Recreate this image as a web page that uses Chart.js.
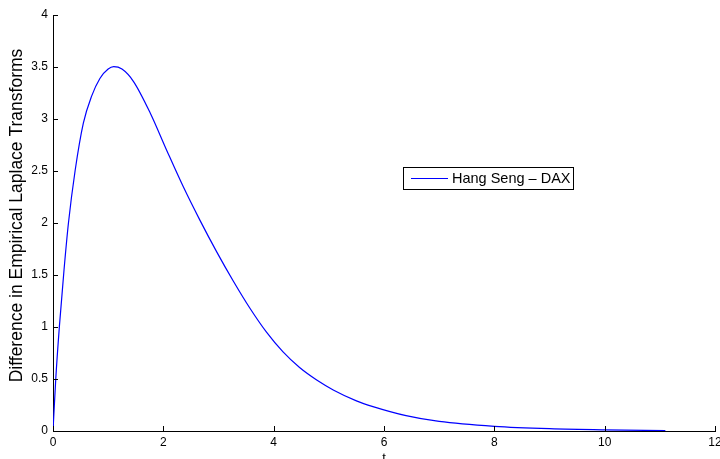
<!DOCTYPE html>
<html>
<head>
<meta charset="utf-8">
<script src="https://cdn.jsdelivr.net/npm/chart.js@4.4.1/dist/chart.umd.min.js"></script>
<style>
  html, body { margin: 0; padding: 0; background: #fff; }
  #wrap { position: relative; width: 720px; height: 459px; overflow: hidden; }
  canvas { display: block; }
</style>
</head>
<body>
<div id="wrap"><canvas id="c" width="720" height="459"></canvas></div>
<script>
// Values
const seriesLabel = "Hang Seng \u2013 DAX";
const tValues = [0, 0.05, 0.115, 0.2, 0.28, 0.40, 0.55, 0.70, 0.85, 1.0, 1.1, 1.25, 1.46, 1.76, 2.06, 2.36, 2.66, 2.97, 3.27, 3.57, 3.87, 4.17, 4.47, 4.78, 5.08, 5.5, 5.8, 6.4, 7.0, 8.0, 9.0, 10.0, 11.1];
const diffValues = [0, 0.5, 1.0, 1.55, 2.0, 2.5, 2.96, 3.22, 3.39, 3.48, 3.503, 3.48, 3.36, 3.06, 2.70, 2.35, 2.03, 1.72, 1.44, 1.18, 0.95, 0.76, 0.61, 0.49, 0.395, 0.29, 0.235, 0.148, 0.092, 0.045, 0.022, 0.011, 0.005];
const xTickLabels = ["0", "2", "4", "6", "8", "10", "12"];
const yTickLabels = ["0", "0.5", "1", "1.5", "2", "2.5", "3", "3.5", "4"];
const xTitle = "t";
const yTitle = "Difference in Empirical Laplace Transforms";

const FONT = "'Liberation Sans', Arial, Helvetica, sans-serif";

const points = tValues.map((t, i) => ({ x: t, y: diffValues[i] }));

const decorations = {
  id: 'decorations',
  afterDraw(chart) {
    const ctx = chart.ctx;
    const xs = chart.scales.x, ys = chart.scales.y;
    const area = chart.chartArea;
    ctx.save();
    ctx.strokeStyle = '#000';
    ctx.lineWidth = 1;
    ctx.beginPath();
    xs.ticks.forEach((tk, i) => {
      const px = Math.round(xs.getPixelForTick(i)) + 0.5;
      ctx.moveTo(px, area.bottom);
      ctx.lineTo(px, area.bottom - 5);
    });
    ys.ticks.forEach((tk, i) => {
      const py = Math.round(ys.getPixelForTick(i)) + 0.5;
      ctx.moveTo(area.left, py);
      ctx.lineTo(area.left + 5, py);
    });
    ctx.stroke();

    // y axis title
    ctx.fillStyle = '#000';
    ctx.font = "17.5px " + FONT;
    ctx.textAlign = 'center';
    ctx.textBaseline = 'middle';
    ctx.save();
    ctx.translate(17, 215.5);
    ctx.rotate(-Math.PI / 2);
    ctx.fillText(yTitle, 0, 0);
    ctx.restore();

    // legend box
    const ds = chart.data.datasets[0];
    const bx = 403.5, by = 167.5, bw = 170, bh = 22;
    ctx.fillStyle = '#fff';
    ctx.fillRect(bx, by, bw, bh);
    ctx.strokeStyle = '#000';
    ctx.strokeRect(bx, by, bw, bh);
    ctx.strokeStyle = ds.borderColor;
    ctx.beginPath();
    ctx.moveTo(411, 178.5);
    ctx.lineTo(448, 178.5);
    ctx.stroke();
    ctx.fillStyle = '#000';
    ctx.font = "14.5px " + FONT;
    ctx.textBaseline = 'middle';
    ctx.textAlign = 'left';
    ctx.fillText(ds.label, 452, 179);
    ctx.restore();
  }
};

new Chart(document.getElementById('c'), {
  type: 'line',
  data: {
    datasets: [{
      label: seriesLabel,
      data: points,
      borderColor: '#0000ff',
      borderWidth: 1.2,
      pointRadius: 0,
      fill: false,
      cubicInterpolationMode: 'monotone'
    }]
  },
  options: {
    responsive: false,
    animation: false,
    events: [],
    layout: { padding: { left: 0, right: 5, top: 15, bottom: 0 } },
    plugins: { legend: { display: false }, tooltip: { enabled: false } },
    scales: {
      x: {
        type: 'linear',
        min: 0, max: 12,
        grid: { display: false, drawTicks: false },
        border: { display: true, color: '#000', width: 1 },
        ticks: {
          stepSize: 2,
          padding: 4,
          maxRotation: 0,
          color: '#000',
          font: { family: FONT, size: 12 },
          callback: (v, i) => xTickLabels[i]
        },
        title: {
          display: true,
          text: xTitle,
          color: '#000',
          font: { family: FONT, size: 13 },
          padding: { top: 0, bottom: -7 }
        },
        afterFit(s) { s.height = 28; s.paddingLeft = 0; s.paddingRight = 0; }
      },
      y: {
        type: 'linear',
        min: 0, max: 4,
        grid: { display: false, drawTicks: false },
        border: { display: true, color: '#000', width: 1 },
        ticks: {
          stepSize: 0.5,
          padding: 5,
          color: '#000',
          font: { family: FONT, size: 12 },
          callback: (v, i) => yTickLabels[i]
        },
        title: { display: false, text: yTitle },
        afterFit(s) { s.width = 53; s.paddingTop = 0; s.paddingBottom = 0; }
      }
    }
  },
  plugins: [decorations]
});
</script>
</body>
</html>
